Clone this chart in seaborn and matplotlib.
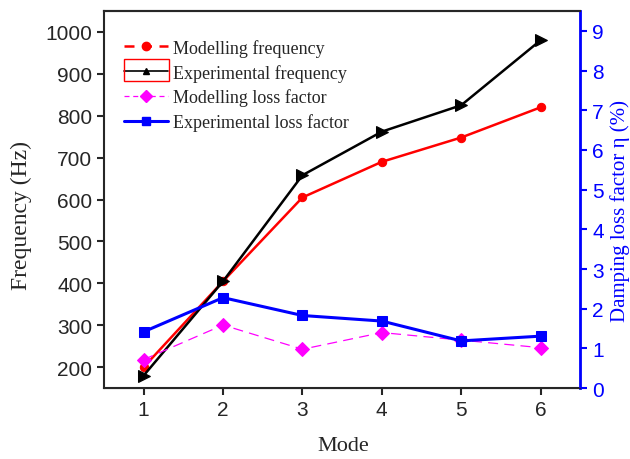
import matplotlib
matplotlib.use("Agg")
import matplotlib.pyplot as plt
import seaborn as sns
import pandas as pd
from matplotlib.lines import Line2D
from matplotlib.patches import Rectangle

modes = [1, 2, 3, 4, 5, 6]
model_freq = [200, 405, 605, 690, 748, 820]
exp_freq = [180, 405, 658, 762, 825, 980]
model_loss = [0.72, 1.59, 0.98, 1.40, 1.21, 1.02]
exp_loss = [1.42, 2.28, 1.83, 1.69, 1.19, 1.31]
freq_ticks = [200, 300, 400, 500, 600, 700, 800, 900, 1000]
loss_ticks = [0, 1, 2, 3, 4, 5, 6, 7, 8, 9]

sns.set_style("ticks")
plt.rcParams['font.family'] = ['Liberation Sans', 'DejaVu Sans']

df = pd.DataFrame({"Mode": modes, "mf": model_freq, "ef": exp_freq,
                   "ml": model_loss, "el": exp_loss})

fig = plt.figure(figsize=(6.3, 4.6), dpi=100)
ax = fig.add_axes([0.165, 0.154, 0.756, 0.820])
ax2 = ax.twinx()

sns.lineplot(data=df, x="Mode", y="mf", ax=ax, color="red", marker="o",
             markersize=6, linewidth=1.8, markeredgecolor="red")
sns.lineplot(data=df, x="Mode", y="ef", ax=ax, color="black", marker=">",
             markersize=8, linewidth=1.8, markeredgecolor="black")
sns.lineplot(data=df, x="Mode", y="ml", ax=ax2, color="magenta", marker="D",
             markersize=7, linewidth=0.9, markeredgecolor="magenta",
             linestyle=(0, (8, 5)))
sns.lineplot(data=df, x="Mode", y="el", ax=ax2, color="blue", marker="s",
             markersize=7, linewidth=2.2, markeredgecolor="blue")

ax.set_xlim(0.5, 6.5)
ax.set_ylim(150, 1050)
ax2.set_ylim(0, 9.5)
ax.set_xticks(modes)
ax.set_yticks(freq_ticks)
ax2.set_yticks(loss_ticks)

ax.tick_params(axis="both", labelsize=15, direction="out", length=5, width=1.5)
ax2.tick_params(axis="y", labelsize=15, direction="out", length=5, width=1.5,
                colors="blue")
for s in ["left", "bottom", "top"]:
    ax.spines[s].set_linewidth(1.5)
ax2.spines["right"].set_color("blue")
ax2.spines["right"].set_linewidth(2)
ax2.spines["left"].set_visible(False)
ax2.spines["top"].set_linewidth(1.5)

ax.set_xlabel("Mode", fontsize=16, family="Liberation Serif", va="center")
ax.xaxis.set_label_coords(0.502, (389 - 446) / 377)
ax.set_ylabel("Frequency (Hz)", fontsize=17, family="Liberation Serif",
              va="center", ha="center")
ax.yaxis.set_label_coords((22 - 104) / 476, (389 - 215) / 377)
ax2.set_ylabel("Damping loss factor η (%)", fontsize=15, family="Liberation Serif",
               color="blue", va="center", ha="center")
ax2.yaxis.set_label_coords((620 - 104) / 476, (389 - 211) / 377)

handles = [
    Line2D([], [], color="red", marker="o", markersize=6, linestyle=(0, (4, 3)), linewidth=1.8),
    Line2D([], [], color="black", marker="^", markersize=5, linewidth=1.2),
    Line2D([], [], color="magenta", marker="D", markersize=6, linestyle=(0, (4, 3)), linewidth=0.9),
    Line2D([], [], color="blue", marker="s", markersize=6, linewidth=2.2),
]
labels = ["Modelling frequency", "Experimental frequency",
          "Modelling loss factor", "Experimental loss factor"]
ax.legend(handles, labels, loc="upper left", bbox_to_anchor=(0.027, 0.945),
          borderaxespad=0, frameon=False,
          prop={"family": "Liberation Serif", "size": 13},
          handlelength=2.45, labelspacing=0.38, handletextpad=0.25)

fig.add_artist(Rectangle((124/630, 1-82/460), 45/630, 22/460,
                         transform=fig.transFigure, fill=False, ec="red", lw=1))

fig.savefig("out.png", dpi=100)
